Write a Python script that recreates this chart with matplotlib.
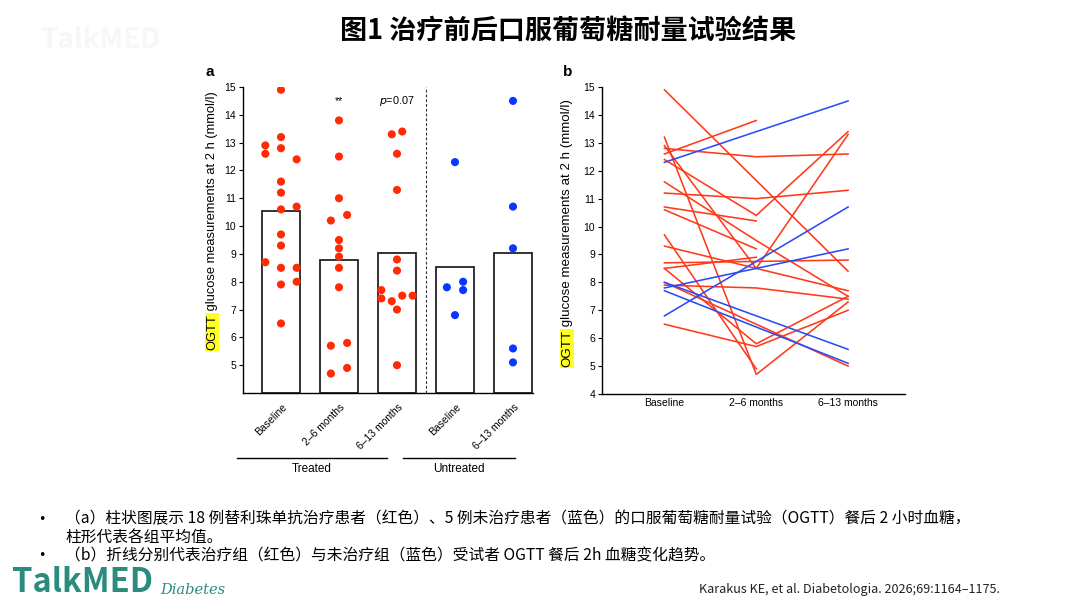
import numpy as np
import matplotlib
matplotlib.use('Agg')
import matplotlib.pyplot as plt
import matplotlib.transforms as mtransforms

plt.rcParams['font.family'] = ['Liberation Sans', 'Noto Sans CJK SC', 'DejaVu Sans']

# ---------------- data ----------------
nan = np.nan
timepoints = ['Baseline', '2–6 months', '6–13 months']
bar_labels = ['Baseline', '2–6 months', '6–13 months', 'Baseline', '6–13 months']
group_names = ['Treated', 'Untreated']
significance = ['**', 'p=0.07']

# one entry per treated participant (NaN = no measurement at that visit)
treated_baseline = [14.9, 12.6, 12.8, 12.4, 11.2, 10.7, 13.2, 12.9, 11.6,
                    10.6, 9.7, 9.3, 8.7, 8.5, 8.5, 8.0, 7.9, 6.5]
treated_m2_6 = [nan, 13.8, 12.5, 10.4, 11.0, 10.2, 4.7, 8.5, 9.5,
                9.2, 4.9, nan, nan, 5.8, 8.9, nan, 7.8, 5.7]
treated_m6_13 = [8.4, nan, 12.6, 13.4, 11.3, nan, 7.3, 13.3, 7.5,
                 nan, nan, 7.7, 8.8, 7.5, nan, 5.0, 7.4, 7.0]
# untreated participants
untreated_baseline = [12.3, 6.8, 7.8, 8.0, 7.7]
untreated_m6_13 = [14.5, 10.7, 9.2, 5.6, 5.1]

# ---------------- layout / style ----------------
# horizontal spread of dots inside each bar (fraction of category spacing)
W, M, S = 0.27, 0.14, 0.09
jit_tb = [0, -W, 0, W, 0, W, 0, -W, 0, 0, 0, 0, -W, 0, W, W, 0, 0]
jit_t2 = [0, 0, 0, M, 0, -M, -M, 0, 0, 0, M, 0, 0, M, 0, 0, 0, -M]
jit_t6 = [0, 0, 0, S, 0, 0, -S, -S, S, 0, 0, -W, 0, W, 0, 0, -W, 0]
jit_ub = [0, 0, -M, M, M]
jit_u6 = [0, 0, 0, 0, 0]

RED = '#ff2a06'
BLUE = '#0a37ff'
LRED = '#ff3a1a'
LBLUE = '#2a4cf5'
TEAL = '#2b8c7e'
HIGHLIGHT = '#ffff22'

FW, FH = 1080, 608
fig = plt.figure(figsize=(FW / 100, FH / 100), dpi=100)


def px(x0, y_top, w, h):
    return [x0 / FW, 1 - (y_top + h) / FH, w / FW, h / FH]


# ---------------- panel a ----------------
axa = fig.add_axes(px(243, 87, 290, 306))
groups = [treated_baseline, treated_m2_6, treated_m6_13, untreated_baseline, untreated_m6_13]
jits = [jit_tb, jit_t2, jit_t6, jit_ub, jit_u6]
colors = [RED, RED, RED, BLUE, BLUE]
for i, (vals, jit, col) in enumerate(zip(groups, jits, colors)):
    v = np.array(vals, dtype=float)
    j = np.array(jit, dtype=float)
    ok = ~np.isnan(v)
    axa.bar(i, np.mean(v[ok]) - 4, bottom=4, width=0.64, facecolor='white',
            edgecolor='#222222', linewidth=1.3, zorder=2)
    axa.scatter(i + j[ok], v[ok], s=34, color=col, edgecolor='none', zorder=3)

axa.axvline(2.5, color='#333333', linewidth=0.8, linestyle=(0, (2.5, 1.8)), zorder=1)
axa.set_xlim(-0.655, 4.345)
axa.set_ylim(4, 15)
axa.set_yticks(range(5, 16))
axa.tick_params(axis='y', labelsize=7.5, length=3, width=0.8, pad=2)
axa.set_xticks(range(5))
axa.set_xticklabels(bar_labels, rotation=45, ha='right', va='center',
                    rotation_mode='anchor', fontsize=7.5)
axa.tick_params(axis='x', length=0, pad=9)
for lab in axa.get_xticklabels():
    lab.set_transform(lab.get_transform() + mtransforms.ScaledTranslation(4 / 100, 0, fig.dpi_scale_trans))
for sp in ['top', 'right']:
    axa.spines[sp].set_visible(False)
for sp in ['left', 'bottom']:
    axa.spines[sp].set_linewidth(1.0)

axa.text(1, 14.5, significance[0], ha='center', va='center', fontsize=7.5)
axa.text(2, 14.5, r'$\it{p}$=0.07', ha='center', va='center', fontsize=7.8)

bt = mtransforms.blended_transform_factory(axa.transData, axa.transAxes)
for (x0, x1), name in zip([(-0.76, 1.83), (2.1, 4.03)], group_names):
    axa.plot([x0, x1], [-0.212, -0.212], color='black', linewidth=1.0,
             transform=bt, clip_on=False)
    axa.text((x0 + x1) / 2, -0.248, name, transform=bt, ha='center', va='center', fontsize=8.5)

fig.text(210 / FW, 1 - 72 / FH, 'a', fontsize=11, fontweight='bold', ha='center', va='center')


# y label with highlighted "OGTT"
def ylabel(xc, ybottom, size):
    t1 = fig.text(xc / FW, 1 - ybottom / FH, 'OGTT', rotation=90, ha='center', va='bottom',
                  fontsize=size, bbox=dict(facecolor=HIGHLIGHT, edgecolor='none', pad=0.6))
    ann = matplotlib.text.Annotation(' glucose measurements at 2 h (mmol/l)', xy=(0.5, 1.0),
                                     xycoords=t1, rotation=90, ha='center', va='bottom',
                                     fontsize=size)
    ann.set_figure(fig)
    fig.texts.append(ann)


ylabel(212, 350, 9.3)

# ---------------- panel b ----------------
axb = fig.add_axes(px(602, 87, 303, 307))
xs = np.arange(3)
for b, m2, m6 in zip(treated_baseline, treated_m2_6, treated_m6_13):
    y = np.array([b, m2, m6], dtype=float)
    ok = ~np.isnan(y)
    axb.plot(xs[ok], y[ok], color=LRED, linewidth=1.15, solid_joinstyle='miter')
for b, m6 in zip(untreated_baseline, untreated_m6_13):
    axb.plot([0, 2], [b, m6], color=LBLUE, linewidth=1.15)

axb.set_xlim(-0.68, 2.62)
axb.set_ylim(4, 15)
axb.set_yticks(range(4, 16))
axb.tick_params(axis='y', labelsize=7.5, length=3, width=0.8, pad=2)
axb.set_xticks(xs)
axb.set_xticklabels(timepoints, fontsize=7.5)
axb.tick_params(axis='x', length=0, pad=3)
for sp in ['top', 'right']:
    axb.spines[sp].set_visible(False)
for sp in ['left', 'bottom']:
    axb.spines[sp].set_linewidth(1.0)

fig.text(568 / FW, 1 - 72 / FH, 'b', fontsize=11, fontweight='bold', ha='center', va='center')
ylabel(567, 367, 9.6)

# ---------------- title, notes, footer ----------------
cjk = ['Noto Sans CJK SC', 'DejaVu Sans']
fig.text(568 / FW, 1 - 31 / FH, '图1 治疗前后口服葡萄糖耐量试验结果', family=cjk,
         fontsize=19.5, fontweight='bold', ha='center', va='center')
fig.text(100 / FW, 1 - 40 / FH, 'TalkMED', family=cjk, fontsize=20, fontweight='bold',
         color='#f7f7f7', ha='center', va='center')

notes = ['（a）柱状图展示 18 例替利珠单抗治疗患者（红色）、5 例未治疗患者（蓝色）的口服葡萄糖耐量试验（OGTT）餐后 2 小时血糖，',
         '柱形代表各组平均值。',
         '（b）折线分别代表治疗组（红色）与未治疗组（蓝色）受试者 OGTT 餐后 2h 血糖变化趋势。']
for yy, txt in zip([519, 538, 556], notes):
    fig.text(65 / FW, 1 - yy / FH, txt, family=cjk, fontsize=11.3, ha='left', va='center')
for yy in [519, 556]:
    fig.text(42 / FW, 1 - yy / FH, '•', family=['DejaVu Sans'], fontsize=9, ha='center', va='center')

fig.text(1000 / FW, 1 - 590 / FH, 'Karakus KE, et al. Diabetologia. 2026;69:1164–1175.',
         family=cjk, fontsize=9.1, ha='right', va='center', color='#222222')
fig.text(12 / FW, 1 - 583 / FH, 'TalkMED', family=cjk, fontsize=23.5, fontweight='bold',
         color=TEAL, ha='left', va='center')
fig.text(160 / FW, 1 - 590 / FH, 'Diabetes', family='DejaVu Serif', style='italic',
         fontsize=10.5, color=TEAL, ha='left', va='center')

fig.savefig('out.png', dpi=100)
